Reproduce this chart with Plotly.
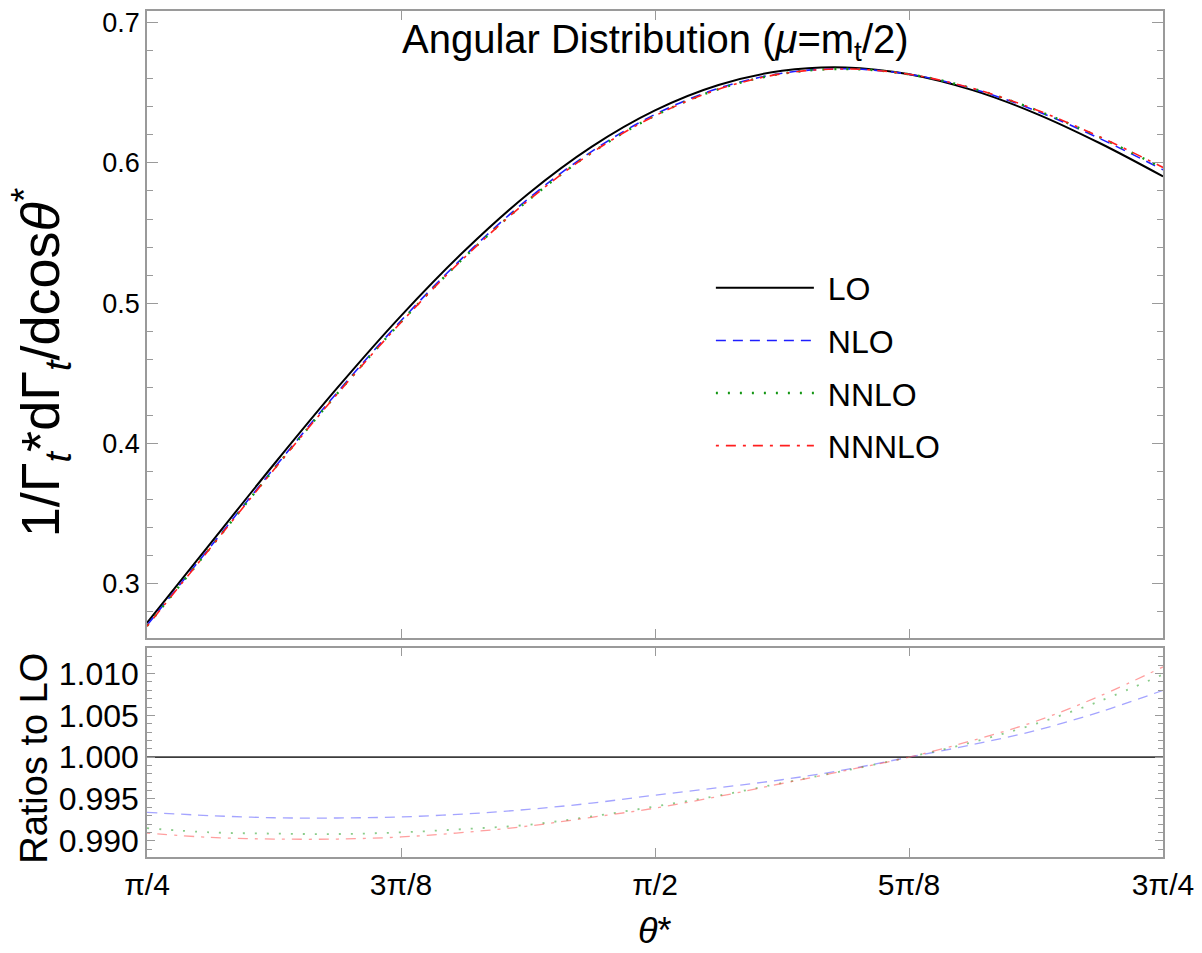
import plotly.graph_objects as go
from plotly.subplots import make_subplots

# angle theta* (radians), pi/4 ... 3pi/4
theta = [0.7854, 0.8836, 0.9817, 1.0799, 1.1781, 1.2763, 1.3744, 1.4726, 1.5708,
         1.6690, 1.7671, 1.8653, 1.9635, 2.0617, 2.1598, 2.2580, 2.3562]

lo = [0.2722, 0.3288, 0.3852, 0.4398, 0.4910, 0.5374, 0.5779, 0.6115, 0.6375,
      0.6556, 0.6657, 0.6681, 0.6632, 0.6519, 0.6352, 0.6142, 0.5904]
nlo = [0.2704, 0.3265, 0.3824, 0.4366, 0.4875, 0.5337, 0.5743, 0.6081, 0.6346,
       0.6532, 0.6639, 0.6671, 0.6632, 0.6529, 0.6372, 0.6175, 0.5951]
nnlo = [0.2699, 0.3258, 0.3817, 0.4358, 0.4866, 0.5328, 0.5732, 0.6072, 0.6337,
        0.6526, 0.6636, 0.6670, 0.6632, 0.6531, 0.6377, 0.6183, 0.5962]
nnnlo = [0.2697, 0.3256, 0.3814, 0.4355, 0.4863, 0.5326, 0.5731, 0.6071, 0.6336,
         0.6525, 0.6636, 0.6670, 0.6632, 0.6532, 0.6379, 0.6187, 0.5968]

ratio_lo = [1.0] * 17
ratio_nlo = [0.9934, 0.9930, 0.99275, 0.99272, 0.99285, 0.9932, 0.99375, 0.9945, 0.99545,
             0.99635, 0.9973, 0.9985, 1.0000, 1.0015, 1.0032, 1.0054, 1.0080]
ratio_nnlo = [0.9915, 0.9910, 0.99085, 0.9908, 0.9910, 0.9914, 0.9919, 0.9929, 0.9941,
              0.9954, 0.9969, 0.9984, 1.0000, 1.0018, 1.0040, 1.0067, 1.0099]
ratio_nnnlo = [0.9909, 0.9904, 0.9902, 0.9902, 0.99045, 0.9910, 0.99175, 0.9928, 0.9939,
               0.9953, 0.99685, 0.9984, 1.0000, 1.0020, 1.0043, 1.0073, 1.0108]

x_tickvals = [0.785398, 1.178097, 1.570796, 1.963495, 2.356194]
x_ticktext = ["π/4", "3π/8", "π/2", "5π/8", "3π/4"]
names = ["LO", "NLO", "NNLO", "NNNLO"]

FONT = "Liberation Sans, Arial, sans-serif"
styles = [
    dict(color="black", width=2, dash="solid"),
    dict(color="rgb(30,30,255)", width=1.6, dash="10px,7px"),
    dict(color="rgb(20,150,20)", width=2.4, dash="2px,10px"),
    dict(color="rgb(255,30,30)", width=1.6, dash="3px,7px,10px,7px"),
]
pale = ["rgb(60,60,60)", "rgba(90,90,255,0.55)", "rgba(60,170,60,0.6)", "rgba(255,80,80,0.55)"]

fig = make_subplots(rows=2, cols=1, shared_xaxes=False, vertical_spacing=0.0)

for i, (name, ys) in enumerate(zip(names, [lo, nlo, nnlo, nnnlo])):
    fig.add_trace(go.Scatter(x=theta, y=ys, mode="lines", name="\u00a0" + name, line=styles[i],
                             line_shape="spline", legendgroup=name), row=1, col=1)

for i, (name, ys) in enumerate(zip(names, [ratio_lo, ratio_nlo, ratio_nnlo, ratio_nnnlo])):
    st = dict(styles[i])
    st["color"] = pale[i]
    st["width"] = 1.6 if i == 0 else (1.8 if i == 2 else 1.3)
    fig.add_trace(go.Scatter(x=theta, y=ys, mode="lines", name=name, line=st,
                             line_shape="spline", showlegend=False), row=2, col=1)

axcol = "#9a9a9a"
common_x = dict(range=[0.785398, 2.356194], tickvals=x_tickvals, ticktext=x_ticktext,
                showline=True, linecolor=axcol, linewidth=1.5, mirror="ticks", ticks="inside",
                ticklen=9, tickcolor=axcol, tickwidth=1.2, showgrid=False, zeroline=False,
                tickfont=dict(family=FONT, size=30, color="black"))
fig.update_xaxes(**common_x, showticklabels=False, row=1, col=1)
fig.update_xaxes(**common_x, showticklabels=True, row=2, col=1)

common_y = dict(showline=True, linecolor=axcol, linewidth=1.5, mirror="ticks", ticks="inside",
                tickcolor=axcol, tickwidth=1.2, showgrid=False, zeroline=False)
fig.update_yaxes(**common_y, range=[0.2615, 0.7083], tickvals=[0.3, 0.4, 0.5, 0.6, 0.7],
                 ticktext=["0.3", "0.4", "0.5", "0.6", "0.7"], ticklen=11,
                 tickfont=dict(family=FONT, size=27, color="black"),
                 minor=dict(dtick=0.02, tick0=0.3, ticks="inside", ticklen=6, tickcolor=axcol, tickwidth=1),
                 row=1, col=1)
fig.update_yaxes(**common_y, range=[0.98805, 1.0131], tickvals=[0.990, 0.995, 1.000, 1.005, 1.010],
                 ticktext=["0.990", "0.995", "1.000", "1.005", "1.010"], ticklen=8,
                 tickfont=dict(family=FONT, size=32, color="black"),
                 minor=dict(dtick=0.001, tick0=0.99, ticks="inside", ticklen=5, tickcolor=axcol, tickwidth=1),
                 row=2, col=1)

top_bottom = (857 - 637) / 849
bot_top = (857 - 647) / 849
fig.update_layout(
    yaxis=dict(domain=[top_bottom, 1.0]),
    yaxis2=dict(domain=[0.0, bot_top]),
)

fig.update_layout(
    width=1202, height=953,
    margin=dict(l=147, r=35, t=8, b=96),
    paper_bgcolor="white", plot_bgcolor="white",
    font=dict(family=FONT, color="black"),
    legend=dict(x=0.555, y=0.705, xanchor="left", yanchor="top",
                font=dict(family=FONT, size=32, color="black"),
                itemwidth=98, traceorder="grouped", tracegroupgap=8,
                bgcolor="rgba(255,255,255,0)"),
    annotations=[
        dict(text="Angular Distribution (<i>μ</i>=m<sub>t</sub>/2)", x=0.5, y=(857 - 39) / 849,
             xref="paper", yref="paper", xanchor="center", yanchor="middle", showarrow=False,
             font=dict(family=FONT, size=40, color="black")),
        dict(text="1/Γ<sub><i>t</i></sub>*dΓ<sub><i>t</i></sub>/dcos<i>θ</i><sup>*</sup>",
             x=-(147 - 40) / 1020, y=(857 - 360) / 849, xref="paper", yref="paper",
             xanchor="center", yanchor="middle", textangle=-90, showarrow=False,
             font=dict(family=FONT, size=54, color="black")),
        dict(text="Ratios to LO", x=-(147 - 34) / 1020, y=(857 - 758) / 849, xref="paper", yref="paper",
             xanchor="center", yanchor="middle", textangle=-90, showarrow=False,
             font=dict(family=FONT, size=38, color="black")),
        dict(text="<i>θ</i>*", x=0.5, y=(857 - 931) / 849, xref="paper", yref="paper",
             xanchor="center", yanchor="middle", showarrow=False,
             font=dict(family=FONT, size=36, color="black")),
    ],
)

fig.write_html("out.html", config={"displayModeBar": False},
               post_script="document.body.style.margin='0';document.body.style.overflow='hidden';")
